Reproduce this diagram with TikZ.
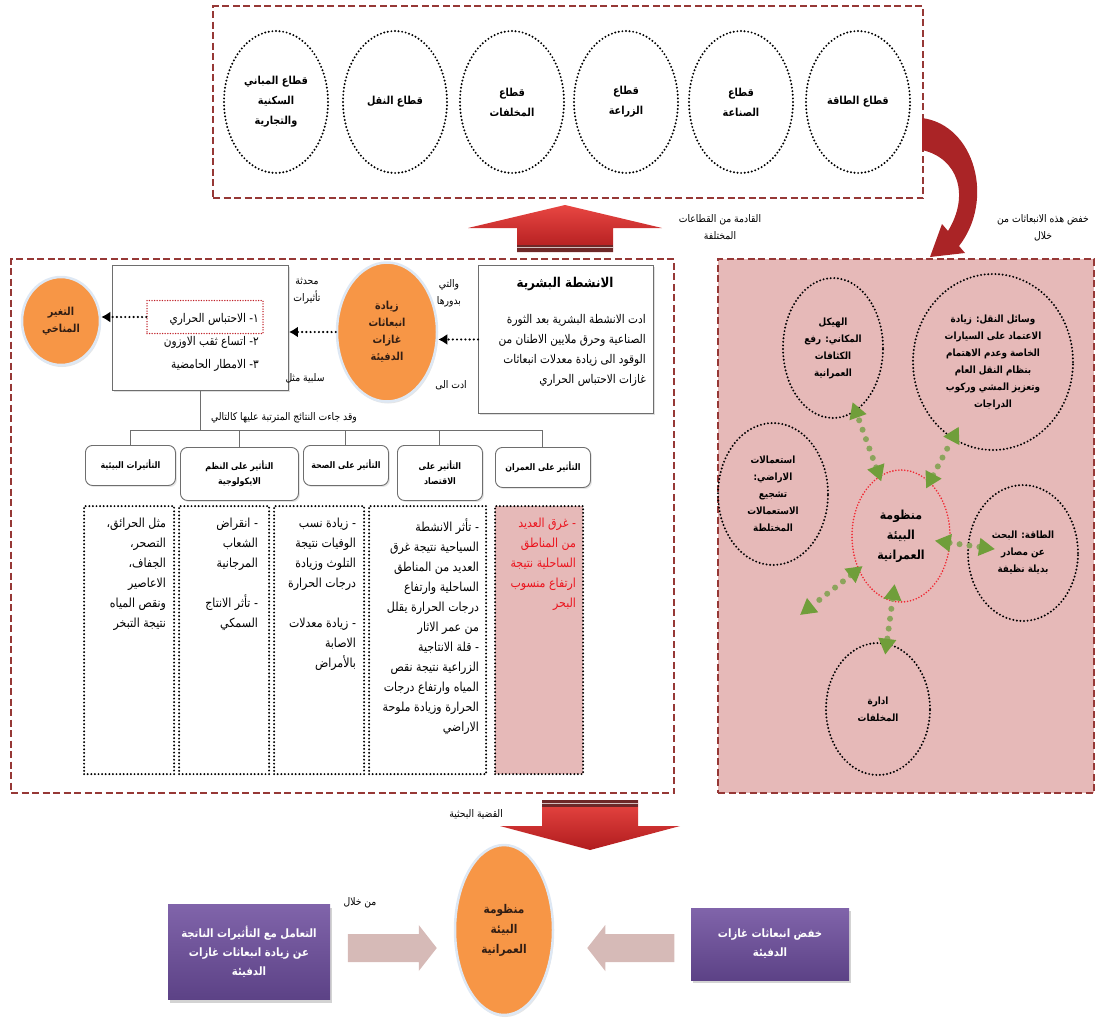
\documentclass[tikz,border=0pt]{standalone}
\usepackage{fontspec}
\usetikzlibrary{arrows.meta,shapes.geometric,shadows,calc}
\TeXXeTstate=1
\newfontfamily\arfont[Script=Arabic,FakeStretch=0.88]{DejaVu Sans}
\newcommand\rl[1]{\beginR#1\endR}

\definecolor{framered}{RGB}{150,56,54}
\definecolor{pinkfill}{RGB}{230,185,184}
\definecolor{orangefill}{RGB}{247,150,70}
\definecolor{orangerim}{RGB}{222,232,244}
\definecolor{textdark}{RGB}{50,30,20}
\definecolor{purpletop}{RGB}{128,100,170}
\definecolor{purplebot}{RGB}{92,66,134}
\definecolor{grayarrow}{RGB}{214,186,183}
\definecolor{redlight}{RGB}{232,70,66}
\definecolor{reddark}{RGB}{176,28,30}
\definecolor{redband}{RGB}{110,40,40}
\definecolor{curvered}{RGB}{170,36,38}
\definecolor{grnline}{RGB}{140,164,92}
\definecolor{grnhead}{RGB}{112,158,58}
\definecolor{redtext}{RGB}{235,20,30}
\definecolor{ringred}{RGB}{240,40,50}
\definecolor{boxgray}{RGB}{110,110,110}

\tikzset{
  every node/.style={font=\arfont},
  framebox/.style={rectangle, draw=framered, line width=2.4pt, dash pattern=on 7pt off 3.5pt, inner sep=0pt, anchor=north west},
  dotring/.style={ellipse, draw=black, line width=2.2pt, dash pattern=on 0pt off 3.6pt, line cap=round, inner sep=0pt, align=center},
  dotbox/.style={rectangle, draw=black, line width=2.2pt, dash pattern=on 0pt off 3.6pt, line cap=round, inner sep=0pt, anchor=north west},
  plainbox/.style={rectangle, draw=boxgray, line width=0.9pt, fill=white, inner sep=0pt, anchor=north west,
    drop shadow={shadow xshift=2pt, shadow yshift=-2pt, opacity=0.25}},
  headbox/.style={rectangle, rounded corners=7pt, draw=boxgray, line width=0.9pt, fill=white, inner sep=0pt, anchor=north west,
    align=center, font=\arfont\bfseries\fontsize{9}{15}\selectfont,
    drop shadow={shadow xshift=1.5pt, shadow yshift=-1.5pt, opacity=0.2}},
  orangeblob/.style={ellipse, fill=orangefill, draw=orangerim, line width=2.5pt, inner sep=0pt, align=center,
    font=\arfont\bfseries\fontsize{11}{17}\selectfont, text=textdark,
    drop shadow={shadow xshift=1pt, shadow yshift=-2pt, opacity=0.2}},
  blkarr/.style={line width=2.4pt, dash pattern=on 0pt off 4.2pt, line cap=round, -{Latex[length=9pt,width=11pt]}},
  grnarr/.style={draw=grnline, line width=6pt, dash pattern=on 0pt off 10pt, line cap=round,
    {Triangle[length=16pt,width=17pt,color=grnhead]}-{Triangle[length=16pt,width=17pt,color=grnhead]}},
  treeline/.style={draw=boxgray, line width=1pt},
  lbl/.style={font=\arfont\fontsize{10.5}{17}\selectfont, align=center, inner sep=0pt},
  coltext/.style={font=\arfont\fontsize{12.5}{20}\selectfont, align=right, inner sep=0pt, anchor=north east},
  ringtext/.style={font=\arfont\bfseries\fontsize{10}{17}\selectfont},
  purplebox/.style={rectangle, top color=purpletop, bottom color=purplebot, draw=none, inner sep=0pt, align=center,
    text=white, font=\arfont\bfseries\fontsize{11.5}{19}\selectfont,
    drop shadow={shadow xshift=2pt, shadow yshift=-3pt, opacity=0.35}},
}

\begin{document}
\begin{tikzpicture}[x=1pt,y=-1pt]
\useasboundingbox (0,0) rectangle (1099,1023);

% ---------- sectors ----------
\node[framebox, minimum width=710pt, minimum height=192pt] (topframe) at (212,5) {};
\begin{scope}[every node/.append style={dotring, minimum width=104pt, minimum height=142pt,
    font=\arfont\bfseries\fontsize{11}{20}\selectfont}]
  \node (sEnergy)    at (858,102) {\rl{قطاع الطاقة}};
  \node (sIndustry)  at (741,102) {\rl{قطاع}\\\rl{الصناعة}};
  \node (sAgri)      at (626,102) {\rl{قطاع}\\\rl{الزراعة}};
  \node (sWaste)     at (512,102) {\rl{قطاع}\\\rl{المخلفات}};
  \node (sTransport) at (395,102) {\rl{قطاع النقل}};
  \node (sBuild)     at (276,102) {\rl{قطاع المباني}\\\rl{السكنية}\\\rl{والتجارية}};
\end{scope}

% ---------- panels ----------
\node[framebox, fill=pinkfill, minimum width=376pt, minimum height=534pt] (solframe) at (717,258) {};
\node[framebox, minimum width=663pt, minimum height=534pt] (mainframe) at (10,258) {};

% up arrow: emissions rise to the sectors
\coordinate (upbase) at (565,252);
\shade[top color=redlight, bottom color=reddark]
  ($(upbase)+(-48,0)$) -- ++(0,-24) -- ++(-49,0) -- ($(upbase)+(0,-47)$)
  -- ($(upbase)+(97,-24)$) -- ++(-49,0) -- ($(upbase)+(48,0)$) -- cycle;
\fill[redband] ($(upbase)+(-48,-7)$) rectangle ($(upbase)+(48,0)$);
\draw[white!70!redband, line width=0.6pt] ($(upbase)+(-48,-4.5)$) -- ($(upbase)+(48,-4.5)$);
\node[lbl] (fromlbl) at (720,227) {\rl{القادمة من القطاعات}\\\rl{المختلفة}};

% curved arrow from the sectors to the mitigation panel
\fill[curvered] (922,118) .. controls (975,125) and (995,200) .. (959,246)
  -- (965,253) -- (930,257) -- (942,224) -- (948,231)
  .. controls (970,195) and (958,158) .. (922,150) -- cycle;
\node[lbl] (cutlbl) at (1043,228) {\rl{خفض هذه الانبعاثات من}\\\rl{خلال}};

% ---------- causes and effects ----------
\node[plainbox, minimum width=175pt, minimum height=148pt] (human) at (478,265) {};
\node[font=\arfont\bfseries\fontsize{13.5}{18}\selectfont, inner sep=0pt] (humantitle) at (565,284) {\rl{الانشطة البشرية}};
\node[font=\arfont\fontsize{12}{20}\selectfont, align=right, inner sep=0pt, anchor=north east] (humanbody) at (646,314)
  {\rl{ادت الانشطة البشرية بعد الثورة}\\\rl{الصناعية وحرق ملايين الاطنان من}\\\rl{الوقود الى زيادة معدلات انبعاثات}\\\rl{غازات الاحتباس الحراري}};

\node[orangeblob, minimum width=100pt, minimum height=139pt] (ghg) at (387,332)
  {\rl{زيادة}\\\rl{انبعاثات}\\\rl{غازات}\\\rl{الدفيئة}};
\node[lbl] (whichlbl) at (449,293) {\rl{والتي}\\\rl{بدورها}};
\node[lbl] (ledlbl) at (451,385) {\rl{ادت الى}};

\node[plainbox, minimum width=176pt, minimum height=125pt] (effects) at (112,265) {};
\node[rectangle, draw=ringred!80!black, line width=1.5pt, dash pattern=on 0pt off 2.6pt, line cap=round,
  minimum width=116pt, minimum height=33pt, inner sep=0pt] (item1) at (205,317) {};
\node[font=\arfont\fontsize{12}{23}\selectfont, align=right, inner sep=0pt, anchor=north east] (items) at (259,313)
  {\rl{١- الاحتباس الحراري}\\\rl{٢- اتساع ثقب الاوزون}\\\rl{٣- الامطار الحامضية}};
\node[lbl] (causelbl) at (307,291) {\rl{محدثة}\\\rl{تأثيرات}};
\node[lbl] (negativelbl) at (305,378) {\rl{سلبية مثل}};

\node[orangeblob, minimum width=78pt, minimum height=88pt] (climate) at (61,321) {\rl{التغير}\\\rl{المناخي}};

\draw[blkarr] (human.west) -- (human.west -| ghg.east);
\draw[blkarr] (ghg.west) -- (ghg.west -| effects.east);
\draw[blkarr] (item1.west) -- (item1.west -| climate.east);

% ---------- impact tree ----------
\node[headbox, minimum width=90pt, minimum height=40pt] (hEnv) at (85,445) {\rl{التأثيرات البيئية}};
\node[headbox, minimum width=118pt, minimum height=53pt] (hEco) at (180,447) {\rl{التأثير على النظم}\\\rl{الايكولوجية}};
\node[headbox, minimum width=85pt, minimum height=40pt] (hHealth) at (303,445) {\rl{التأثير على الصحة}};
\node[headbox, minimum width=85pt, minimum height=55pt] (hEcon) at (397,445) {\rl{التأثير على}\\\rl{الاقتصاد}};
\node[headbox, minimum width=95pt, minimum height=40pt] (hUrban) at (495,447) {\rl{التأثير على العمران}};

\coordinate (bus) at (0,430);
\draw[treeline] (effects.south) -- (effects.south |- bus);
\draw[treeline] (hEnv.north) -- (hEnv.north |- bus) -- (hUrban.north |- bus) -- (hUrban.north);
\draw[treeline] (hEco.north) -- (hEco.north |- bus);
\draw[treeline] (hHealth.north) -- (hHealth.north |- bus);
\draw[treeline] (hEcon.north) -- (hEcon.north |- bus);
\node[lbl, fill=white, inner xsep=2pt] (resultlbl) at (284,418) {\rl{وقد جاءت النتائج المترتبة عليها كالتالي}};

\node[dotbox, minimum width=90pt, minimum height=268pt] (cEnv) at (83,505) {};
\node[dotbox, minimum width=90pt, minimum height=268pt] (cEco) at (178,505) {};
\node[dotbox, minimum width=90pt, minimum height=268pt] (cHealth) at (273,505) {};
\node[dotbox, minimum width=117pt, minimum height=268pt] (cEcon) at (368,505) {};
\node[dotbox, fill=pinkfill, minimum width=88pt, minimum height=268pt] (cUrban) at (494,505) {};

\node[coltext] (tEnv) at ($(cEnv.north east)+(-9,13)$)
  {\rl{مثل الحرائق،}\\\rl{التصحر،}\\\rl{الجفاف،}\\\rl{الاعاصير}\\\rl{ونقص المياه}\\\rl{نتيجة التبخر}};
\node[coltext] (tEco) at ($(cEco.north east)+(-12,13)$)
  {\rl{- انقراض}\\\rl{الشعاب}\\\rl{المرجانية}\\[20pt]\rl{- تأثر الانتاج}\\\rl{السمكي}};
\node[coltext] (tHealth) at ($(cHealth.north east)+(-9,13)$)
  {\rl{- زيادة نسب}\\\rl{الوفيات نتيجة}\\\rl{التلوث وزيادة}\\\rl{درجات الحرارة}\\[20pt]\rl{- زيادة معدلات}\\\rl{الاصابة}\\\rl{بالأمراض}};
\node[coltext] (tEcon) at ($(cEcon.north east)+(-8,13)$)
  {\rl{- تأثر الانشطة}\\\rl{السياحية نتيجة غرق}\\\rl{العديد من المناطق}\\\rl{الساحلية وارتفاع}\\\rl{درجات الحرارة يقلل}\\\rl{من عمر الاثار}\\\rl{- قلة الانتاجية}\\\rl{الزراعية نتيجة نقص}\\\rl{المياه وارتفاع درجات}\\\rl{الحرارة وزيادة ملوحة}\\\rl{الاراضي}};
\node[coltext, text=redtext] (tUrban) at ($(cUrban.north east)+(-8,13)$)
  {\rl{- غرق العديد}\\\rl{من المناطق}\\\rl{الساحلية نتيجة}\\\rl{ارتفاع منسوب}\\\rl{البحر}};

% ---------- mitigation panel ----------
\node[dotring, minimum width=160pt, minimum height=176pt, ringtext] (transport) at (993,362)
  {\rl{وسائل النقل: زيادة}\\\rl{الاعتماد على السيارات}\\\rl{الخاصة وعدم الاهتمام}\\\rl{بنظام النقل العام}\\\rl{وتعزيز المشي وركوب}\\\rl{الدراجات}};
\node[dotring, minimum width=100pt, minimum height=140pt, ringtext] (struct) at (833,348)
  {\rl{الهيكل}\\\rl{المكاني: رفع}\\\rl{الكثافات}\\\rl{العمرانية}};
\node[dotring, minimum width=110pt, minimum height=142pt, ringtext] (landuse) at (773,494)
  {\rl{استعمالات}\\\rl{الاراضي:}\\\rl{تشجيع}\\\rl{الاستعمالات}\\\rl{المختلطة}};
\node[dotring, draw=ringred, line width=1.8pt, dash pattern=on 0pt off 3pt, minimum width=98pt, minimum height=132pt,
  font=\arfont\bfseries\fontsize{12.5}{20}\selectfont] (core) at (901,536)
  {\rl{منظومة}\\\rl{البيئة}\\\rl{العمرانية}};
\node[dotring, minimum width=110pt, minimum height=136pt, ringtext] (energy) at (1023,553)
  {\rl{الطاقة: البحث}\\\rl{عن مصادر}\\\rl{بديلة نظيفة}};
\node[dotring, minimum width=104pt, minimum height=132pt, ringtext] (waste) at (878,709)
  {\rl{ادارة}\\\rl{المخلفات}};
\coordinate (spare) at (800,615);

\draw[grnarr, shorten <=-6pt, shorten >=-10pt] (core) -- (struct);
\draw[grnarr, shorten <=-8pt, shorten >=-14pt] (core) -- (transport);
\draw[grnarr, shorten <=-16pt, shorten >=-28pt] (core) -- (energy);
\draw[grnarr, shorten <=-18pt, shorten >=-12pt] (core) -- (waste);
\draw[grnarr, shorten <=-6pt] (core) -- (spare);

% ---------- research problem ----------
\coordinate (downtop) at (590,800);
\shade[top color=redlight, bottom color=reddark]
  ($(downtop)+(-48,0)$) -- ($(downtop)+(48,0)$) -- ++(0,26) -- ++(42,0) -- ($(downtop)+(0,50)$)
  -- ($(downtop)+(-90,26)$) -- ++(42,0) -- cycle;
\fill[redband] ($(downtop)+(-48,0)$) rectangle ($(downtop)+(48,7)$);
\draw[white!70!redband, line width=0.6pt] ($(downtop)+(-48,3.5)$) -- ($(downtop)+(48,3.5)$);
\node[lbl, anchor=east] (problemlbl) at (503,814) {\rl{القضية البحثية}};

\node[orangeblob, minimum width=98pt, minimum height=170pt, font=\arfont\bfseries\fontsize{12}{20}\selectfont] (system) at (504,930)
  {\rl{منظومة}\\\rl{البيئة}\\\rl{العمرانية}};
\node[purplebox, minimum width=162pt, minimum height=95pt] (adapt) at (249,952)
  {\rl{التعامل مع التأثيرات الناتجة}\\\rl{عن زيادة انبعاثات غازات}\\\rl{الدفيئة}};
\node[purplebox, minimum width=158pt, minimum height=72pt] (mitigate) at (770,944)
  {\rl{خفض انبعاثات غازات}\\\rl{الدفيئة}};

% broad arrows feeding the urban system
\coordinate (ltip) at ($(system.west)+(-17,18)$);
\coordinate (rtip) at ($(system.east)+(33,18)$);
\fill[grayarrow] ($(ltip)+(-89,-14)$) -- ($(ltip)+(-18,-14)$) -- ($(ltip)+(-18,-23)$) -- (ltip)
  -- ($(ltip)+(-18,23)$) -- ($(ltip)+(-18,14)$) -- ($(ltip)+(-89,14)$) -- cycle;
\fill[grayarrow] ($(rtip)+(87,-14)$) -- ($(rtip)+(18,-14)$) -- ($(rtip)+(18,-23)$) -- (rtip)
  -- ($(rtip)+(18,23)$) -- ($(rtip)+(18,14)$) -- ($(rtip)+(87,14)$) -- cycle;
\node[lbl] (throughlbl) at (360,903) {\rl{من خلال}};
\end{tikzpicture}
\end{document}
